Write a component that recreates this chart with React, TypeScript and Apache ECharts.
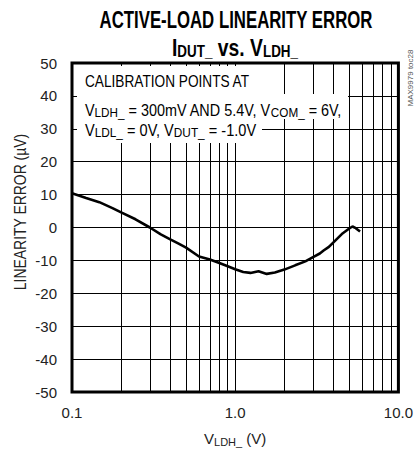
import React, { useEffect, useRef } from "react";
import * as echarts from "echarts";

// V_LDH_ (V) sample points of the curve
const vldh = [
  0.1, 0.122, 0.147, 0.177, 0.2, 0.245, 0.3, 0.35, 0.4, 0.45, 0.5, 0.6, 0.7, 0.8, 0.9, 1.0,
  1.12, 1.24, 1.39, 1.56, 1.75, 2.0, 2.33, 2.69, 3.0, 3.3, 3.48, 3.75, 4.0, 4.5, 5.0, 5.23,
  5.48, 5.82,
];
// Linearity error (µV)
const errorUV = [
  10.4, 9.0, 7.7, 5.9, 4.6, 2.5, 0.0, -2.1, -3.6, -4.9, -6.1, -8.8, -9.7, -10.8, -11.8, -12.7,
  -13.5, -13.8, -13.3, -14.1, -13.7, -12.8, -11.5, -10.3, -9.0, -7.9, -7.0, -5.9, -4.5, -2.0,
  -0.3, 0.3, -0.2, -1.2,
];
// vertical grid lines (log minor + decade)
const gridX = [0.2, 0.3, 0.4, 0.5, 0.6, 0.7, 0.8, 0.9, 1, 2, 3, 4, 5, 6, 7, 8, 9];
const yTicks = { min: -50, max: 50, interval: 10 };

const FONT = "'Liberation Sans', Arial, sans-serif";

export default function App() {
  const ref = useRef<HTMLDivElement>(null);
  useEffect(() => {
    if (!ref.current) return;
    const chart = echarts.init(ref.current, null, { renderer: "svg" });
    const main = { fontSize: 16, fontFamily: FONT, color: "#111" };
    const sub = { fontSize: 13, fontFamily: FONT, color: "#111", padding: [6, 0, 0, 0] };
    const tMain = { fontSize: 23, fontFamily: FONT, fontWeight: "bold", color: "#000" };
    const tSub = { fontSize: 16, fontFamily: FONT, fontWeight: "bold", color: "#000", padding: [8, 0, 0, 0] };
    chart.setOption({
      animation: false,
      grid: {
        left: 72,
        right: 16,
        top: 63,
        bottom: 59,
        show: true,
        borderColor: "#000",
        borderWidth: 3,
        backgroundColor: "transparent",
      },
      xAxis: {
        type: "log",
        logBase: 10,
        min: 0.1,
        max: 10,
        axisLine: { show: false },
        axisTick: { show: false },
        splitLine: { show: false },
        axisLabel: {
          fontFamily: FONT,
          fontSize: 15,
          color: "#222",
          margin: 13,
          formatter: (v: number) => Number(v).toFixed(1),
        },
        name: "{m|V}{s|LDH_}{m| (V)}",
        nameLocation: "middle",
        nameGap: 38,
        nameTextStyle: {
          rich: {
            m: { fontSize: 15, fontFamily: FONT, color: "#222" },
            s: { fontSize: 11, fontFamily: FONT, color: "#222", padding: [6, 0, 0, 0] },
          },
        },
      },
      yAxis: {
        type: "value",
        min: yTicks.min,
        max: yTicks.max,
        interval: yTicks.interval,
        axisLine: { show: false },
        axisTick: { show: false },
        splitLine: { show: true, lineStyle: { color: "#000", width: 1 } },
        axisLabel: { fontFamily: FONT, fontSize: 15, color: "#222", margin: 15 },
      },
      series: [
        {
          type: "line",
          data: vldh.map((x, i) => [x, errorUV[i]]),
          showSymbol: false,
          symbol: "none",
          lineStyle: { color: "#000", width: 2.6 },
          z: 3,
          markLine: {
            silent: true,
            symbol: ["none", "none"],
            label: { show: false },
            lineStyle: { color: "#000", width: 1, type: "solid" },
            data: gridX.map((v) => ({ xAxis: v })),
          },
        },
      ],
      graphic: [
        { type: "rect", z: 10, shape: { x: 77, y: 66, width: 193, height: 28 }, style: { fill: "#fff" } },
        { type: "rect", z: 10, shape: { x: 77, y: 94, width: 271, height: 25 }, style: { fill: "#fff" } },
        { type: "rect", z: 10, shape: { x: 77, y: 119, width: 185, height: 24 }, style: { fill: "#fff" } },
        {
          type: "text",
          z: 11,
          x: 85,
          y: 82,
          scaleX: 0.854,
          style: { text: "{m|CALIBRATION POINTS AT}", rich: { m: main }, align: "left", verticalAlign: "middle" },
        },
        {
          type: "text",
          z: 11,
          x: 85,
          y: 110,
          scaleX: 0.9,
          style: {
            text: "{m|V}{s|LDH_}{m| = 300mV AND 5.4V, V}{s|COM_}{m| = 6V,}",
            rich: { m: main, s: sub },
            align: "left",
            verticalAlign: "middle",
          },
        },
        {
          type: "text",
          z: 11,
          x: 85,
          y: 130,
          scaleX: 0.91,
          style: {
            text: "{m|V}{s|LDL_}{m| = 0V, V}{s|DUT_}{m| = -1.0V}",
            rich: { m: main, s: sub },
            align: "left",
            verticalAlign: "middle",
          },
        },
        {
          type: "text",
          x: 236,
          y: 20,
          scaleX: 0.73,
          style: {
            text: "ACTIVE-LOAD LINEARITY ERROR",
            fontSize: 23,
            fontFamily: FONT,
            fontWeight: "bold",
            fill: "#000",
            align: "center",
            verticalAlign: "middle",
          },
        },
        {
          type: "text",
          x: 235,
          y: 48,
          scaleX: 0.84,
          style: {
            text: "{m|I}{s|DUT_}{m| vs. V}{s|LDH_}",
            rich: { m: tMain, s: tSub },
            align: "center",
            verticalAlign: "middle",
          },
        },
        {
          type: "text",
          x: 20,
          y: 212,
          rotation: Math.PI / 2,
          scaleX: 0.82,
          style: {
            text: "LINEARITY ERROR (µV)",
            fontSize: 17,
            fontFamily: FONT,
            fill: "#222",
            align: "center",
            verticalAlign: "middle",
          },
        },
        {
          type: "text",
          x: 410,
          y: 78,
          rotation: Math.PI / 2,
          style: {
            text: "MAX9979 toc28",
            fontSize: 8,
            fontFamily: FONT,
            fill: "#555",
            align: "center",
            verticalAlign: "middle",
          },
        },
      ],
    });
    return () => chart.dispose();
  }, []);
  return <div ref={ref} style={{ position: "absolute", left: 0, top: 0, width: 416, height: 452 }} />;
}
